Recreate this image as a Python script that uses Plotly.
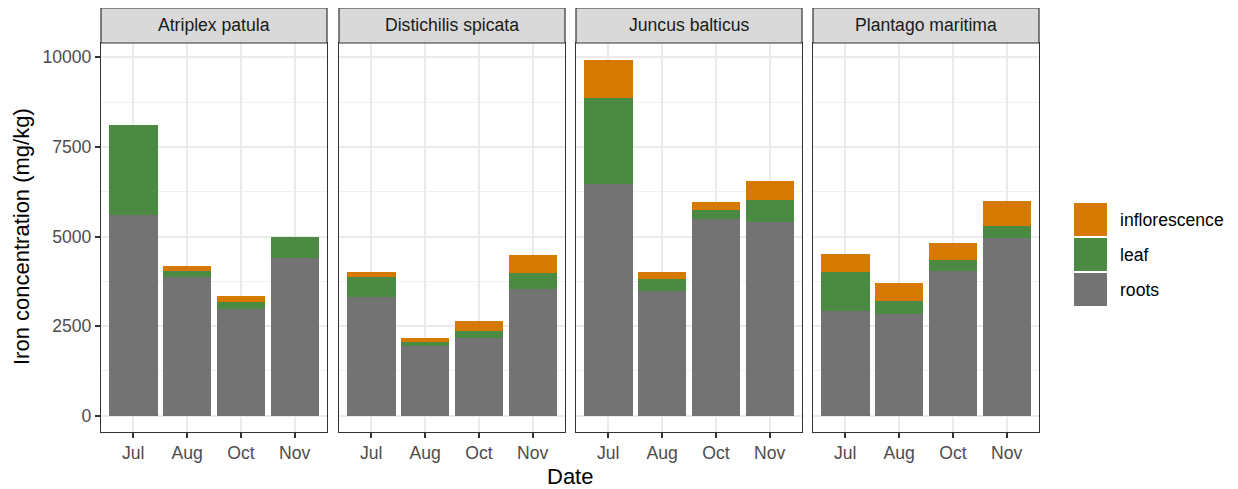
import plotly.graph_objects as go

species = ["Atriplex patula", "Distichilis spicata", "Juncus balticus", "Plantago maritima"]
months = ["Jul", "Aug", "Oct", "Nov"]

# values per species (rows) and month (columns), mg/kg
roots = [
    [5600, 3860, 2980, 4410],
    [3310, 1955, 2175, 3535],
    [6465, 3480, 5490, 5415],
    [2920, 2845, 4040, 4970],
]
leaf = [
    [2510, 180, 195, 575],
    [560, 100, 185, 450],
    [2400, 335, 250, 605],
    [1090, 355, 305, 335],
]
inflorescence = [
    [0, 140, 165, 0],
    [140, 110, 280, 500],
    [1060, 195, 225, 530],
    [505, 500, 475, 690],
]

parts = ["roots", "leaf", "inflorescence"]
part_values = {"roots": roots, "leaf": leaf, "inflorescence": inflorescence}
colors = {"roots": "#737373", "leaf": "#4A8A43", "inflorescence": "#D67900"}
legend_order = ["inflorescence", "leaf", "roots"]

FONT = "Liberation Sans, Arial, Helvetica, sans-serif"
SMALL = 17.6
BIG = 22

# the page body has an 8px margin, so the figure is sized to fit the window
OFF = 8
W, H = 1238 - OFF, 489 - OFF
PLOT_L, PLOT_R, PLOT_T, PLOT_B = 101, 1039, 43, 432  # target page pixels
ML = PLOT_L - OFF
MT = PLOT_T - OFF
MR = W - (PLOT_R - OFF)
MB = H - (PLOT_B - OFF)
PW = PLOT_R - PLOT_L
PH = PLOT_B - PLOT_T


def px_x(x):
    return (x - PLOT_L) / PW


def px_y(y):
    return (PLOT_B - y) / PH


fig = go.Figure()

panel_starts = [0, 238, 475, 712]
panel_w = 226

for i, sp in enumerate(species):
    xa = "x" if i == 0 else f"x{i+1}"
    ya = "y" if i == 0 else f"y{i+1}"
    for p in parts:
        fig.add_trace(go.Bar(
            x=months, y=part_values[p][i], name=p,
            marker=dict(color=colors[p], line=dict(width=0)),
            xaxis=xa, yaxis=ya, showlegend=False,
            hovertemplate=f"{sp}<br>%{{x}}<br>{p}: %{{y}}<extra></extra>",
        ))
    d0 = panel_starts[i] / PW
    d1 = (panel_starts[i] + panel_w) / PW
    xkey = "xaxis" if i == 0 else f"xaxis{i+1}"
    ykey = "yaxis" if i == 0 else f"yaxis{i+1}"
    fig.update_layout(**{
        xkey: dict(
            domain=[d0, d1], anchor=ya, type="category",
            categoryorder="array", categoryarray=months,
            range=[-0.6, 3.6], showgrid=True, gridcolor="#EBEBEB", gridwidth=2,
            ticks="outside", ticklen=5, tickwidth=1.5, tickcolor="#333333",
            showline=True, mirror=True, linecolor="#333333", linewidth=1.2,
            tickfont=dict(family=FONT, size=SMALL, color="#4D4D4D"),
            zeroline=False, fixedrange=True,
        ),
        ykey: dict(
            domain=[0, 1], anchor=xa, range=[-455, 10399],
            tickmode="linear", tick0=0, dtick=2500, tickformat="d",
            showgrid=True, gridcolor="#EBEBEB", gridwidth=2,
            minor=dict(dtick=1250, tick0=0, showgrid=True, gridcolor="#F0F0F0", gridwidth=1),
            ticks="outside" if i == 0 else "", ticklen=5, tickwidth=1.5, tickcolor="#333333",
            showticklabels=(i == 0),
            showline=True, mirror=True, linecolor="#333333", linewidth=1.2,
            tickfont=dict(family=FONT, size=SMALL, color="#4D4D4D"),
            zeroline=False, fixedrange=True,
        ),
    })
    # strip
    fig.add_shape(type="rect", xref=f"{xa} domain", yref="paper",
                  x0=0, x1=1, y0=1, y1=1 + 35 / PH,
                  fillcolor="#D9D9D9", line=dict(color="#333333", width=1.2), layer="above")
    fig.add_annotation(text=sp, xref=f"{xa} domain", yref="paper",
                       x=0.5, y=1 + 17.5 / PH, showarrow=False,
                       xanchor="center", yanchor="middle",
                       font=dict(family=FONT, size=SMALL, color="#1A1A1A"))

# axis titles
fig.add_annotation(text="Iron concentration (mg/kg)", xref="paper", yref="paper",
                   x=px_x(21), y=px_y(237), textangle=-90, showarrow=False,
                   xanchor="center", yanchor="middle",
                   font=dict(family=FONT, size=BIG, color="black"))
fig.add_annotation(text="Date", xref="paper", yref="paper",
                   x=px_x(570), y=px_y(476), showarrow=False,
                   xanchor="center", yanchor="middle",
                   font=dict(family=FONT, size=BIG, color="black"))

# legend (drawn manually to match ggplot key size)
key_tops = [203, 238, 273]
for name, top in zip(legend_order, key_tops):
    fig.add_shape(type="rect", xref="paper", yref="paper",
                  x0=px_x(1074), x1=px_x(1107),
                  y0=px_y(top + 33), y1=px_y(top),
                  fillcolor=colors[name], line=dict(width=0))
    fig.add_annotation(text=name, xref="paper", yref="paper",
                       x=px_x(1118), y=px_y(top + 16.5),
                       showarrow=False, xanchor="left", yanchor="middle",
                       font=dict(family=FONT, size=SMALL, color="black"))

fig.update_layout(
    width=W, height=H, barmode="stack", bargap=0.1,
    margin=dict(l=ML, r=MR, t=MT, b=MB),
    paper_bgcolor="white", plot_bgcolor="white",
    showlegend=False, font=dict(family=FONT),
)

fig.write_html("out.html")
